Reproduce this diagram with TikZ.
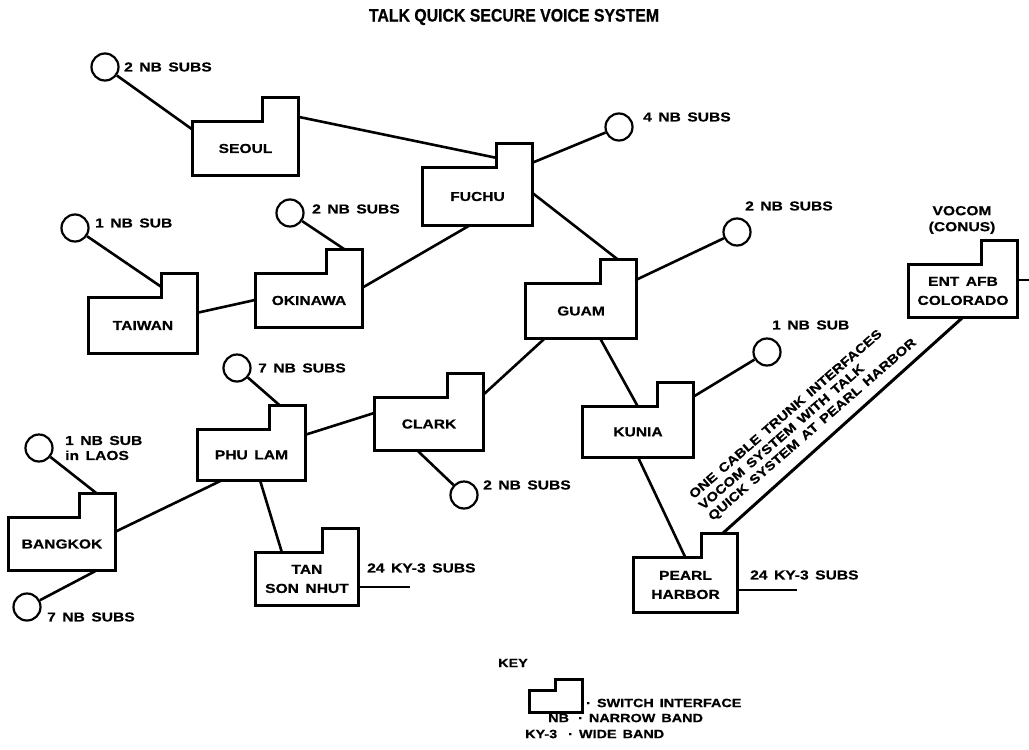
\documentclass[tikz,border=0pt]{standalone}
\usepackage{fontspec}
\setmainfont{Liberation Sans}
\newfontfamily\lblfont[FakeStretch=1.2,WordSpace=1.5,FakeBold=0.6]{Liberation Sans}
\newfontfamily\titlefont[FakeStretch=0.88,FakeBold=0.8]{Liberation Sans}
\usetikzlibrary{calc}
% switch interface outline: main rectangle with a tab on its top right
\newcommand{\tabw}{36}
\newcommand{\tabh}{24}
\newcommand{\swbox}[5]{%
  \node[sw box, minimum width=#3pt, minimum height=#4pt] (#1) at (#2) {#5};
  \coordinate (#1-tab) at ([xshift=-\tabw*1pt]#1.north east);
  \draw[sw line] (#1.north west) -- (#1-tab) -- ++(0,-\tabh) -| (#1.north east) -- (#1.south east) -- (#1.south west) -- cycle;
}
\tikzset{
  sw box/.style={draw=none, inner sep=0pt, align=center,
                 font={\lblfont\bfseries\fontsize{13}{19}\selectfont}},
  sw line/.style={line width=2.9pt, line join=miter},
  link/.style={line width=2.6pt},
  sub/.style={circle, draw, line width=2.2pt, minimum size=27pt, inner sep=0pt},
  lbl/.style={anchor=west, inner sep=0pt, align=left,
              font={\lblfont\bfseries\fontsize{13}{15}\selectfont}},
  keytxt/.style={anchor=west, inner sep=0pt,
                 font={\lblfont\bfseries\fontsize{12}{13}\selectfont}},
  title/.style={inner sep=0pt, font={\titlefont\bfseries\fontsize{18}{20}\selectfont}},
}
\begin{document}
\begin{tikzpicture}[x=1pt, y=-1pt]
  \useasboundingbox (0,0) rectangle (1029,750);
  \node[title] (title) at (514,17) {TALK QUICK SECURE VOICE SYSTEM};
  % switches
  \swbox{seoul}{245.5,148.5}{105}{53}{SEOUL}
  \swbox{fuchu}{477.5,196.5}{109}{57}{FUCHU}
  \swbox{taiwan}{143,325.5}{108}{55}{TAIWAN}
  \swbox{okinawa}{309,300.5}{106}{53}{OKINAWA}
  \swbox{guam}{581,311}{110}{54}{GUAM}
  \swbox{ent}{963,291}{108}{52}{ENT AFB\\COLORADO}
  \swbox{kunia}{638,432}{110}{50}{KUNIA}
  \swbox{pearl}{685.5,585}{103}{54}{PEARL\\HARBOR}
  \swbox{tsn}{307,579}{102}{52}{TAN\\SON NHUT}
  \swbox{clark}{429,424}{108}{52}{CLARK}
  \swbox{phulam}{251.5,455}{107}{50}{PHU LAM}
  \swbox{bangkok}{62,544}{106}{52}{BANGKOK}
  % narrow band subscribers
  \node[sub] (seoul-c) at (105,67) {};
  \node[sub] (fuchu-c) at (619,127) {};
  \node[sub] (okinawa-c) at (290,213) {};
  \node[sub] (taiwan-c) at (75,228) {};
  \node[sub] (guam-c) at (737,232) {};
  \node[sub] (kunia-c) at (767,352) {};
  \node[sub] (clark-c) at (464,495) {};
  \node[sub] (phulam-c) at (237,368) {};
  \node[sub] (laos-c) at (39,448) {};
  \node[sub] (bangkok-c) at (27,607) {};
  \node[lbl] (seoul-n) at (124,67) {2 NB SUBS};
  \node[lbl] (fuchu-n) at (643,117) {4 NB SUBS};
  \node[lbl] (okinawa-n) at (312,209) {2 NB SUBS};
  \node[lbl] (taiwan-n) at (95,223) {1 NB SUB};
  \node[lbl] (guam-n) at (745,206) {2 NB SUBS};
  \node[lbl] (kunia-n) at (772,325) {1 NB SUB};
  \node[lbl] (clark-n) at (483,485) {2 NB SUBS};
  \node[lbl] (phulam-n) at (258,368) {7 NB SUBS};
  \node[lbl] (laos-n) at (65,448) {1 NB SUB\\in LAOS};
  \node[lbl] (bangkok-n) at (47,617) {7 NB SUBS};
  \node[lbl] (tsn-n) at (367,568) {24 KY-3 SUBS};
  \node[lbl] (pearl-n) at (750,575) {24 KY-3 SUBS};
  \node[lbl, anchor=center, align=center, font={\lblfont\bfseries\fontsize{13}{16}\selectfont}] (ent-n) at (962,220) {VOCOM\\(CONUS)};
  % trunks
  \draw[link] (seoul-c) -- ([yshift=-8pt]seoul.north west);
  \draw[link] ([yshift=5pt]seoul.north east) -- ([yshift=10pt]fuchu-tab);
  \draw[link] ([yshift=5pt]fuchu.north east) -- (fuchu-c);
  \draw[link] ([yshift=-25pt]fuchu.north east) -- ([xshift=-18pt,yshift=24pt]guam.north east);
  \draw[link] ([xshift=-7.5pt]fuchu.south) -- ([yshift=-14pt]okinawa.north east);
  \draw[link] (okinawa-c) -- ([xshift=-17pt,yshift=24pt]okinawa.north east);
  \draw[link] (taiwan-c) -- ([yshift=11pt]taiwan-tab);
  \draw[link] ([yshift=-15pt]taiwan.north east) -- ([yshift=-26pt]okinawa.north west);
  \draw[link] ([yshift=4pt]guam.north east) -- (guam-c);
  \draw[link] ([xshift=-36pt]guam.south) -- ([yshift=3pt]clark.north east);
  \draw[link] ([xshift=19pt]guam.south) -- (kunia.north);
  \draw[link] ([yshift=10pt]kunia.north east) -- (kunia-c);
  \draw[link] (kunia.south) -- (pearl.north);
  \coordinate (pearl-ky) at (797,590);
  \draw[link] ([yshift=-5pt]pearl.east) -- (pearl-ky);
  \draw[link, line width=3pt] ([xshift=-15pt,yshift=24pt]pearl.north east) -- (ent.south);
  \coordinate (ent-out) at (1029,280);
  \draw[link] ([yshift=11pt]ent.east) -- (ent-out);
  \draw[link] ([xshift=-12pt]clark.south) -- (clark-c);
  \draw[link] ([yshift=-5pt]phulam.north east) -- ([yshift=-15pt]clark.north west);
  \draw[link] (phulam-c) -- ([xshift=-25pt,yshift=24pt]phulam.north east);
  \draw[link] ([xshift=-29.5pt]phulam.south) -- ([yshift=-14pt]bangkok.north east);
  \draw[link] ([xshift=8.5pt]phulam.south) -- ([xshift=-25pt]tsn.north);
  \coordinate (tsn-ky) at (410,587);
  \draw[link] ([yshift=-8pt]tsn.east) -- (tsn-ky);
  \draw[link] (laos-c) -- ([xshift=-18pt,yshift=24pt]bangkok.north east);
  \draw[link] (bangkok-c) -- ([xshift=35pt]bangkok.south);
  \node[lbl, rotate=41, font={\lblfont\bfseries\fontsize{12.5}{14.5}\selectfont}] (cable-n) at (701,508)
    {ONE CABLE TRUNK INTERFACES\\VOCOM SYSTEM WITH TALK\\QUICK SYSTEM AT PEARL HARBOR};
  % key
  \node[keytxt] (key) at (498,663) {KEY};
  \begin{scope}
    \renewcommand{\tabw}{27}\renewcommand{\tabh}{11}
    \swbox{keysw}{556,701.5}{52}{21}{}
  \end{scope}
  \node[keytxt] (key-sw) at (586,703) {· SWITCH INTERFACE};
  \node[keytxt] (key-nb) at (548,718) {NB};
  \node[keytxt] (key-nbt) at (578,718) {· NARROW BAND};
  \node[keytxt] (key-ky) at (525,734) {KY-3};
  \node[keytxt] (key-kyt) at (568,734) {· WIDE BAND};
\end{tikzpicture}
\end{document}
